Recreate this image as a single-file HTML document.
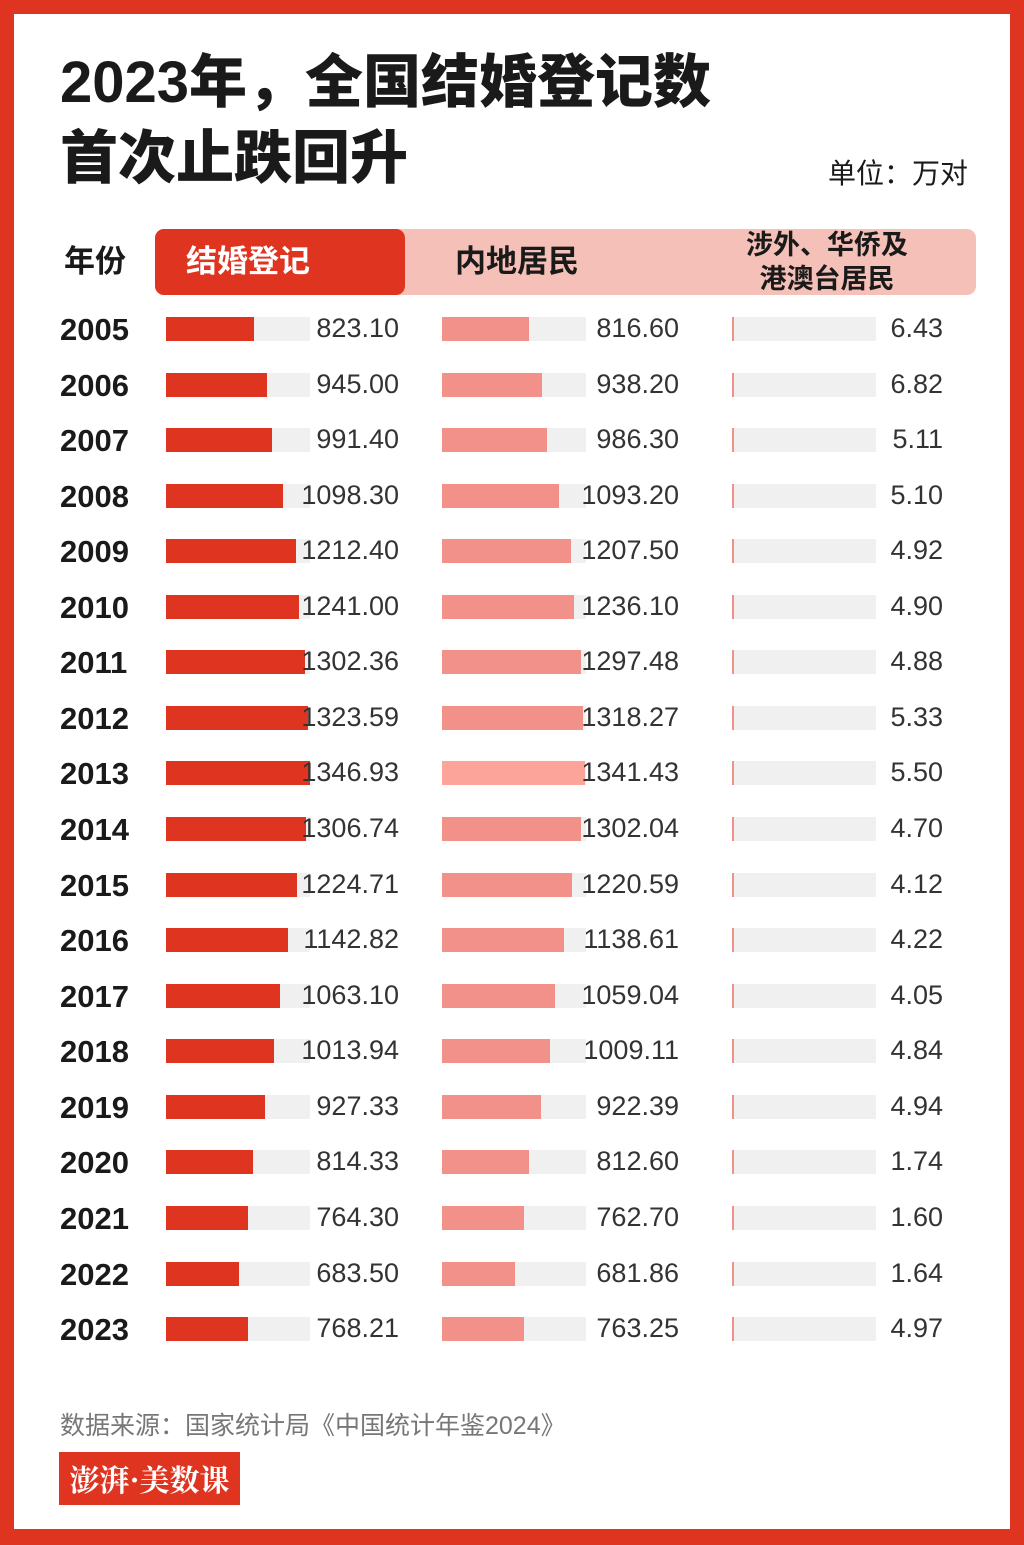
<!DOCTYPE html>
<html><head><meta charset="utf-8">
<style>
html,body{margin:0;padding:0}
body{width:1024px;height:1545px;background:#df3420;position:relative;overflow:hidden;font-family:"Liberation Sans","Noto Sans CJK SC",sans-serif}
#card{position:absolute;left:14px;top:14px;width:996px;height:1515px;background:#fff}
.abs{position:absolute}
.title{font-weight:900;font-size:58px;color:#1a1a1a;left:60px;white-space:nowrap;line-height:1}
.val{position:absolute;font-size:27px;color:#333;font-weight:300;text-align:right;width:140px;line-height:1}
.yr{position:absolute;left:60px;font-size:31px;font-weight:700;color:#1a1a1a;line-height:1}
</style></head><body>
<div id="card"></div>
<div class="abs title" style="top:54px">2023年，全国结婚登记数</div>
<div class="abs title" style="top:130px">首次止跌回升</div>
<div class="abs" style="right:56px;top:152px;font-size:28px;color:#1a1a1a">单位：万对</div>

<div class="abs" style="left:155px;top:229px;width:821px;height:66px;background:#f5c0b8;border-radius:9px"></div>
<div class="abs" style="left:155px;top:229px;width:250px;height:66px;background:#df3420;border-radius:9px"></div>
<div class="abs" style="left:64px;top:241px;font-size:31px;font-weight:700;color:#1a1a1a;line-height:42px">年份</div>
<div class="abs" style="left:186px;top:241px;font-size:31px;font-weight:700;color:#fff;line-height:42px">结婚登记</div>
<div class="abs" style="left:455px;top:241px;font-size:31px;font-weight:700;color:#1a1a1a;line-height:42px">内地居民</div>
<div class="abs" style="left:727px;top:228px;width:200px;font-size:27px;font-weight:700;color:#1a1a1a;text-align:center;line-height:34px">涉外、华侨及<br>港澳台居民</div>

<div id="chart"></div>
<div class="abs" style="left:60px;top:1406px;font-size:25px;color:#777;white-space:nowrap">数据来源：国家统计局《中国统计年鉴2024》</div>
<div class="abs" style="left:59px;top:1452px;width:181px;height:53px;background:#df3420;color:#fff;font-size:30px;font-weight:700;line-height:53px;text-align:center;white-space:nowrap;overflow:hidden;font-family:'Noto Serif CJK SC',serif">澎湃·美数课</div>

<script>
const years=[2005,2006,2007,2008,2009,2010,2011,2012,2013,2014,2015,2016,2017,2018,2019,2020,2021,2022,2023];
const total=[823.10,945.00,991.40,1098.30,1212.40,1241.00,1302.36,1323.59,1346.93,1306.74,1224.71,1142.82,1063.10,1013.94,927.33,814.33,764.30,683.50,768.21];
const mainland=[816.60,938.20,986.30,1093.20,1207.50,1236.10,1297.48,1318.27,1341.43,1302.04,1220.59,1138.61,1059.04,1009.11,922.39,812.60,762.70,681.86,763.25];
const foreign=[6.43,6.82,5.11,5.10,4.92,4.90,4.88,5.33,5.50,4.70,4.12,4.22,4.05,4.84,4.94,1.74,1.60,1.64,4.97];
const maxV=1346.93, trackW=144;
const x=v=>v/maxV*trackW;
const y=i=>329+i*55.56;
const cols=[{data:total,left:166,color:'#df3420',valR:399,name:'marriage'},
            {data:mainland,left:442,color:'#f2918a',valR:679,name:'mainland'},
            {data:foreign,left:732,color:'#f2918a',valR:943,name:'foreign'}];
const root=document.getElementById('chart');
years.forEach((yr,i)=>{
  const cy=y(i);
  const t=document.createElement('div');
  t.className='yr';
  
  
  t.style.top=(cy-15)+'px';
  t.textContent=yr;
  root.appendChild(t);
  cols.forEach(c=>{
    const tr=document.createElement('div');
    tr.className='abs';
    
    
    tr.style.cssText=`left:${c.left}px;top:${cy-12}px;width:${trackW}px;height:24px;background:#f0f0f0`;
    root.appendChild(tr);
    const b=document.createElement('div');
    b.className='abs';
    
    
    let col=c.color; if(c.name==='mainland'&&yr===2013) col='#fca39a';
    b.style.cssText=`left:${c.left}px;top:${cy-12}px;width:${Math.max(1.5,x(c.data[i]))}px;height:24px;background:${col}`;
    root.appendChild(b);
    const v=document.createElement('div');
    v.className='val';
    
    
    v.style.left=(c.valR-140)+'px';
    v.style.top=(cy-14)+'px';
    v.textContent=c.data[i].toFixed(2);
    root.appendChild(v);
  });
});
</script>
</body></html>
